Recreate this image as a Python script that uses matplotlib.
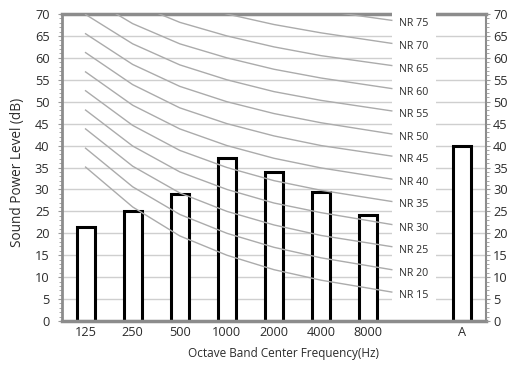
import matplotlib
matplotlib.use("Agg")
import matplotlib.pyplot as plt
from matplotlib.patches import Rectangle
from matplotlib.ticker import MultipleLocator

plt.rcParams['font.family'] = ['Open Sans', 'DejaVu Sans']

categories = ["125", "250", "500", "1000", "2000", "4000", "8000", "A"]
bar_values = [21.5, 25.1, 28.9, 37.1, 34.0, 29.4, 24.2, 40.0]
bar_positions = [0, 1, 2, 3, 4, 5, 6, 8]

nr_names = ["NR 15", "NR 20", "NR 25", "NR 30", "NR 35", "NR 40", "NR 45",
            "NR 50", "NR 55", "NR 60", "NR 65", "NR 70", "NR 75"]
nr15 = [35.1, 26.0, 19.4, 15, 11.7, 9.3, 7.5]
nr20 = [39.4, 30.6, 24.3, 20, 16.8, 14.4, 12.6]
nr25 = [43.8, 35.3, 29.2, 25, 21.9, 19.5, 17.8]
nr30 = [48.1, 39.9, 34.0, 30, 26.9, 24.7, 22.9]
nr35 = [52.5, 44.6, 38.9, 35, 32.0, 29.8, 28.1]
nr40 = [56.8, 49.2, 43.8, 40, 37.1, 34.9, 33.2]
nr45 = [61.2, 53.9, 48.6, 45, 42.2, 40.0, 38.4]
nr50 = [65.5, 58.5, 53.5, 50, 47.3, 45.2, 43.5]
nr55 = [69.9, 63.2, 58.4, 55, 52.3, 50.3, 48.7]
nr60 = [74.2, 67.8, 63.2, 60, 57.4, 55.4, 53.8]
nr65 = [78.6, 72.5, 68.1, 65, 62.5, 60.5, 59.0]
nr70 = [82.9, 77.1, 73.0, 70, 67.6, 65.7, 64.1]
nr75 = [87.3, 81.8, 77.9, 75, 72.6, 70.8, 69.3]
nr_curves = [nr15, nr20, nr25, nr30, nr35, nr40, nr45,
             nr50, nr55, nr60, nr65, nr70, nr75]

fig = plt.figure(figsize=(5.1, 3.65), dpi=100)
ax = fig.add_axes([62/510, 1-321/365, (486-62)/510, (321-14)/365])

ax.set_xlim(-0.5, 8.5)
ax.set_ylim(0, 70)

ax.yaxis.set_major_locator(MultipleLocator(5))
ax.yaxis.set_minor_locator(MultipleLocator(1))
ax.grid(axis='y', which='major', color='#cfcfcf', linewidth=1.0, zorder=0)
ax.set_axisbelow(True)

text_color = '#2b2b2b'
tick_fs = 9.2
ax.tick_params(axis='y', which='major', length=3, width=0.8, color='#999999',
               labelsize=tick_fs, labelcolor=text_color, pad=6,
               left=True, right=False, labelleft=True, labelright=False)
ax.tick_params(axis='y', which='minor', length=2, width=0.6, color='#999999',
               left=True, right=False)
ax.set_xticks(bar_positions)
ax.set_xticklabels(categories)
ax.tick_params(axis='x', length=0, labelsize=tick_fs, labelcolor=text_color, pad=3.5)

# right-hand duplicate scale
axr = ax.twinx()
axr.set_ylim(0, 70)
axr.yaxis.set_major_locator(MultipleLocator(5))
axr.yaxis.set_minor_locator(MultipleLocator(1))
axr.tick_params(axis='y', which='major', length=3, width=0.8, color='#999999',
                labelsize=tick_fs, labelcolor=text_color, pad=2)
axr.tick_params(axis='y', which='minor', length=2, width=0.6, color='#999999')
for s in axr.spines.values():
    s.set_visible(False)

for s in ['left', 'right', 'top', 'bottom']:
    ax.spines[s].set_color('#8c8c8c')
ax.spines['left'].set_linewidth(2.0)
ax.spines['right'].set_linewidth(1.5)
ax.spines['top'].set_linewidth(2.5)
ax.spines['bottom'].set_linewidth(2.5)

ax.bar(bar_positions, bar_values, width=0.38, color='white',
       edgecolor='black', linewidth=2.2, zorder=2)

# white label column
ax.add_patch(Rectangle((6.5, 3.2), 0.94, 68.0, facecolor='white',
                       edgecolor='none', zorder=3, clip_on=False))

x_pts = list(range(7))
for name, vals in zip(nr_names, nr_curves):
    end_val = vals[-1] + 0.5 * (vals[-1] - vals[-2])
    xs = x_pts + [6.5]
    ys = vals + [end_val]
    ax.plot(xs, ys, color='#ababab', linewidth=1.0, zorder=4)
    ax.text(6.65, end_val - 0.8, name, fontsize=7.7, color=text_color,
            ha='left', va='center', zorder=5, clip_on=False)

fig.text(18/510, 1-172/365, "Sound Power Level (dB)", rotation=90,
         ha='center', va='center', fontsize=9.8, color=text_color)
fig.text(284/510, 1-354/365, "Octave Band Center Frequency(Hz)",
         ha='center', va='center', fontsize=8.5, color=text_color)

fig.savefig("out.png", dpi=100)
